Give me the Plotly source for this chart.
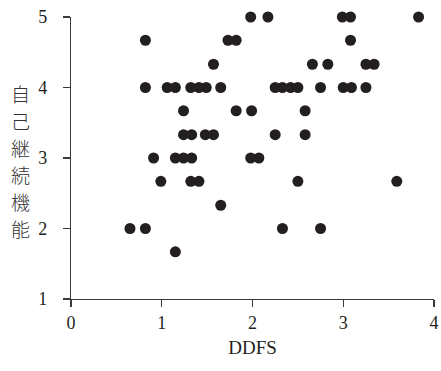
import plotly.graph_objects as go

ddfs = [1.98, 2.17, 2.99, 3.08, 3.83,
        0.82, 1.73, 1.82, 3.08,
        1.57, 2.66, 2.83, 3.25, 3.34,
        0.82, 1.06, 1.15, 1.32, 1.41, 1.49, 1.65, 2.25, 2.33, 2.42, 2.50, 2.75, 3.00, 3.09, 3.25,
        1.24, 1.82, 1.99, 2.58,
        1.24, 1.33, 1.48, 1.57, 2.25, 2.58,
        0.91, 1.15, 1.24, 1.33, 1.98, 2.07,
        0.99, 1.32, 1.41, 2.50, 3.59,
        1.65,
        0.65, 0.82, 2.33, 2.75,
        1.15]
self_continuity = [5, 5, 5, 5, 5,
                   4.67, 4.67, 4.67, 4.67,
                   4.33, 4.33, 4.33, 4.33, 4.33,
                   4, 4, 4, 4, 4, 4, 4, 4, 4, 4, 4, 4, 4, 4, 4,
                   3.67, 3.67, 3.67, 3.67,
                   3.33, 3.33, 3.33, 3.33, 3.33, 3.33,
                   3, 3, 3, 3, 3, 3,
                   2.67, 2.67, 2.67, 2.67, 2.67,
                   2.33,
                   2, 2, 2, 2,
                   1.67]
x_ticks = [0, 1, 2, 3, 4]
y_ticks = [1, 2, 3, 4, 5]
x_title = "DDFS"
y_title = "自己継続機能"

ink = "#231f20"
fig = go.Figure(go.Scatter(
    x=ddfs, y=self_continuity, mode="markers",
    marker=dict(size=11, color=ink, line=dict(width=0)),
    hoverinfo="skip", cliponaxis=False))

axis_common = dict(showgrid=False, zeroline=False, showline=True, linecolor="#3a3a3a",
                   linewidth=1.2, ticks="outside", ticklen=7, tickwidth=1.2,
                   tickcolor="#3a3a3a", automargin=False, ticklabeloverflow="allow",
                   tickfont=dict(family="Liberation Serif", size=18, color=ink))
fig.update_xaxes(range=[0, 4], tickvals=x_ticks, **axis_common,
                 title=dict(text=x_title, font=dict(family="Liberation Serif", size=19, color=ink),
                            standoff=9))
fig.update_yaxes(range=[1, 5], tickvals=y_ticks, **axis_common, ticklabelstandoff=12)
fig.update_xaxes(ticklabelstandoff=0)

# vertical (stacked) y-axis title, one character per row
plot_h = 371 - 17 - 72
step = 27 / plot_h
center = 0.489
n = len(y_title)
for i, ch in enumerate(y_title):
    fig.add_annotation(text=ch, xref="paper", yref="paper",
                       x=-0.140, y=center + ((n - 1) / 2 - i) * step,
                       xanchor="center", yanchor="middle", showarrow=False,
                       font=dict(family="Noto Sans CJK JP", size=19, color="#333333", weight=300))

fig.update_layout(width=441, height=371, margin=dict(l=71, r=7, t=17, b=72),
                  plot_bgcolor="white", paper_bgcolor="white", showlegend=False)
fig.write_html("out.html", config={"displayModeBar": False, "staticPlot": True},
               post_script="document.body.style.margin='0';document.body.style.padding='0';")
